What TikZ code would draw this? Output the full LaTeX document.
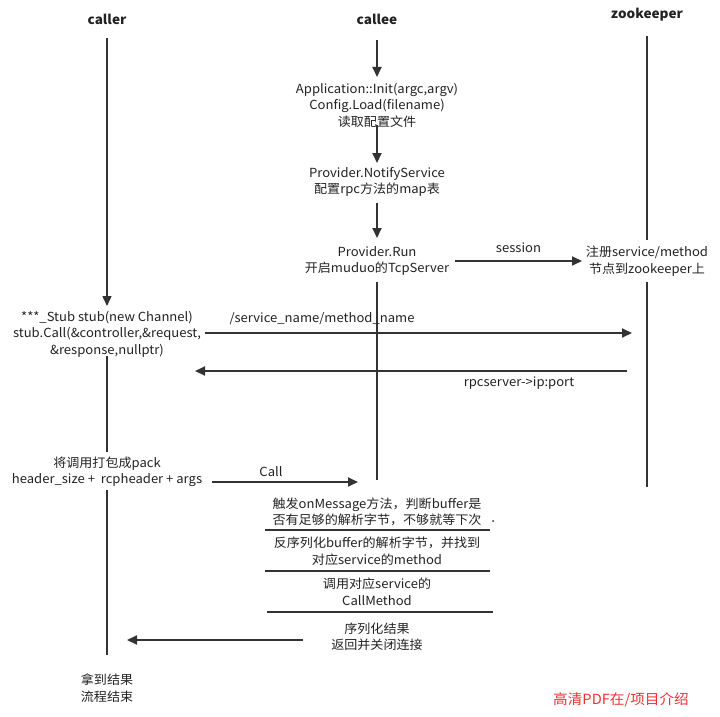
\documentclass[tikz,border=0pt]{standalone}
\usepackage{fontspec}
\setmainfont{Noto Sans CJK SC}[FakeStretch=1.045]
\usetikzlibrary{arrows.meta}
\definecolor{ln}{HTML}{333333}
\definecolor{tx}{HTML}{222222}
\definecolor{pdfred}{HTML}{F03030}
\begin{document}
\begin{tikzpicture}[x=1pt,y=-1pt,
  txt/.style={font=\fontsize{12.5}{16.5}\selectfont, align=center, inner sep=0pt, text=tx},
  ttl/.style={font=\fontsize{13}{16}\selectfont\bfseries, inner sep=0pt, text=tx},
  life/.style={draw=ln, line width=1.4pt},
  msg/.style={draw=ln, line width=1.8pt, -{Triangle[length=10pt,width=9pt]}},
  sep/.style={draw=ln, line width=1.6pt}]
\useasboundingbox (0,0) rectangle (720,717);

% titles
\node[ttl] (tcaller) at (107,19) {caller};
\node[ttl] (tcallee) at (377,19) {callee};
\node[ttl] (tzk) at (647,15) {zookeeper};

% callee steps
\node[txt] (init) at (377,105) {Application::Init(argc,argv)\\Config.Load(filename)\\读取配置文件};
\node[txt] (notify) at (377,182) {Provider.NotifyService\\配置rpc方法的map表};
\node[txt] (run) at (377,261) {Provider.Run\\开启muduo的TcpServer};
\node[txt] (reg) at (647,261) {注册service/method\\节点到zookeeper上};

% caller steps
\node[txt] (stub) at (107,334) {***\_Stub stub(new Channel)\\stub.Call(\&controller,\&request,\\\&response,nullptr)};
\node[txt] (pack) at (107,472) {将调用打包成pack\\header\_size +\ \ rcpheader + args};
\node[txt] (done) at (107,688) {拿到结果\\流程结束};

% server processing
\node[txt] (b1) at (377,512) {触发onMessage方法，判断buffer是\\否有足够的解析字节，不够就等下次};
\node[txt] (b2) at (377,551) {反序列化buffer的解析字节，并找到\\对应service的method};
\node[txt] (b3) at (377,592) {调用对应service的\\CallMethod};
\node[txt] (ret) at (377,637) {序列化结果\\返回并关闭连接};

\node[font=\fontsize{14}{16}\selectfont, text=pdfred, inner sep=0pt] (pdf) at (621,700) {高清PDF在/项目介绍};

% coordinates for lifeline segments
\coordinate (cr0) at (107,38);  \coordinate (cr1) at (107,306);
\coordinate (cr2) at (107,356); \coordinate (cr3) at (107,452);
\coordinate (cr4) at (107,490); \coordinate (cr5) at (107,655);
\coordinate (ce0) at (377,40);  \coordinate (ce1) at (377,77);
\coordinate (ce2) at (377,125); \coordinate (ce3) at (377,163);
\coordinate (ce4) at (377,203); \coordinate (ce5) at (377,238);
\coordinate (ce6) at (377,282); \coordinate (ce7) at (377,480);
\coordinate (zk0) at (647,36);  \coordinate (zk1) at (647,240);
\coordinate (zk2) at (647,282); \coordinate (zk3) at (647,487);

% caller lifeline
\draw[msg, line width=1.4pt] (cr0) -- (cr1);
\draw[life] (cr2) -- (cr3);
\draw[life] (cr4) -- (cr5);
% callee lifeline
\draw[msg] (ce0) -- (ce1);
\draw[msg] (ce2) -- (ce3);
\draw[msg] (ce4) -- (ce5);
\draw[life] (ce6) -- (ce7);
% zookeeper lifeline
\draw[life] (zk0) -- (zk1);
\draw[life] (zk2) -- (zk3);

% messages
\coordinate (s0) at (455,261); \coordinate (s1) at (582,261);
\draw[msg] (s0) -- node[txt, above=7pt] (lsession) {session} (s1);

\coordinate (q0) at (205,333); \coordinate (q1) at (632,333);
\draw[msg] (q0) -- (q1);
\node[txt] (lq) at (322,319) {/service\_name/method\_name};

\coordinate (r0) at (627,371); \coordinate (r1) at (195,371);
\draw[msg] (r0) -- (r1);
\node[txt] (lr) at (519,383) {rpcserver->ip:port};

\coordinate (c0) at (212,482); \coordinate (c1) at (358,482);
\draw[msg] (c0) -- (c1);
\node[txt] (lc) at (271,472) {Call};

\coordinate (t0) at (303,640); \coordinate (t1) at (127,640);
\draw[msg] (t0) -- (t1);

% separators
\coordinate (p0) at (265,530); \coordinate (p1) at (490,530);
\coordinate (p2) at (265,571); \coordinate (p3) at (490,571);
\coordinate (p4) at (267,612); \coordinate (p5) at (493,612);
\draw[sep] (p0) -- (p1);
\draw[sep] (p2) -- (p3);
\draw[sep] (p4) -- (p5);
\fill[ln] (493,521) circle (1pt);
\end{tikzpicture}
\end{document}
